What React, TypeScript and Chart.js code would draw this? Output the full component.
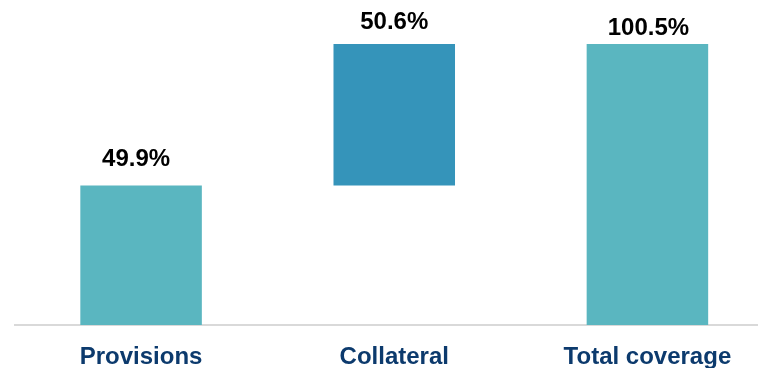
import React, { useEffect, useRef } from "react";
import { Chart, registerables } from "chart.js";

Chart.register(...registerables);

const categories = ["Provisions", "Collateral", "Total coverage"];
const barStarts = [0, 49.9, 0];
const barEnds = [49.9, 100.5, 100.5];
const valueLabels = ["49.9%", "50.6%", "100.5%"];
const barColors = ["#5AB6C0", "#3594BA", "#5AB6C0"];
// label offsets (style only): gap above bar top and horizontal nudge
const labelGap = [19, 15, 9];
const labelDx = [-5, 0, 1];

const FONT = "'Liberation Sans', Arial, sans-serif";

const valueLabelPlugin = {
  id: "valueLabels",
  afterDatasetsDraw(chart: any) {
    const ctx = chart.ctx;
    const meta = chart.getDatasetMeta(0);
    ctx.save();
    ctx.font = `bold 24px ${FONT}`;
    ctx.fillStyle = "#000000";
    ctx.textAlign = "center";
    ctx.textBaseline = "alphabetic";
    meta.data.forEach((el: any, i: number) => {
      const top = Math.min(el.y, el.base);
      ctx.fillText(valueLabels[i], el.x + labelDx[i], top - labelGap[i]);
    });
    ctx.restore();
  },
};

export default function App() {
  const ref = useRef<HTMLCanvasElement | null>(null);
  useEffect(() => {
    document.body.style.margin = "0";
    document.body.style.overflow = "hidden";
    if (!ref.current) return;
    const chart = new Chart(ref.current, {
      type: "bar",
      data: {
        labels: categories,
        datasets: [
          {
            data: barStarts.map((s, i) => [s, barEnds[i]]) as any,
            backgroundColor: barColors,
            borderWidth: 0,
            barPercentage: 0.48,
            categoryPercentage: 1,
          },
        ],
      },
      options: {
        animation: false,
        responsive: false,
        maintainAspectRatio: false,
        layout: { padding: { top: 44, left: 14.5, right: 0, bottom: 0 } },
        plugins: {
          legend: { display: false },
          tooltip: { enabled: false },
        },
        scales: {
          x: {
            grid: { display: false },
            border: { display: true, color: "#D9D9D9", width: 2 },
            ticks: {
              color: "#0C3A6D",
              font: { family: FONT, size: 24, weight: "bold" },
              padding: 10,
              maxRotation: 0,
            },
            afterFit(scale: any) {
              scale.height = 43;
            },
          },
          y: {
            display: false,
            min: 0,
            max: 100.5,
          },
        },
      },
      plugins: [valueLabelPlugin],
    });
    return () => chart.destroy();
  }, []);
  return (
    <div style={{ width: 758, height: 368, overflow: "hidden", position: "relative" }}>
      <canvas ref={ref} width={774} height={368} style={{ display: "block", width: 774, height: 368 }} />
    </div>
  );
}
